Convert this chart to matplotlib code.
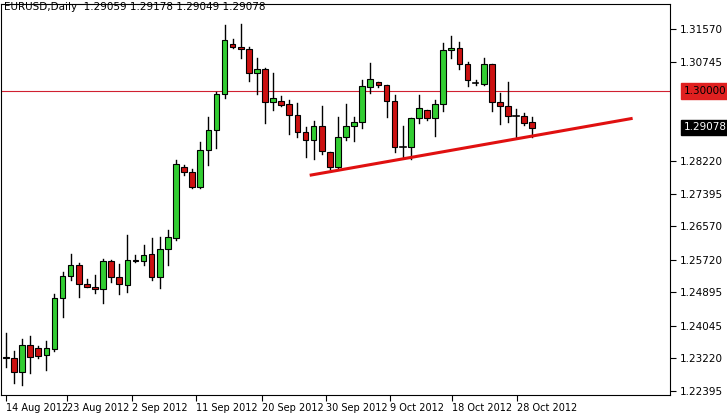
import matplotlib
matplotlib.use("Agg")
import matplotlib.pyplot as plt
from matplotlib.patches import Rectangle

# daily EURUSD candles
opens = [1.2325, 1.2323, 1.2288, 1.2356, 1.2349, 1.2331, 1.2346, 1.2475, 1.2531, 1.2559,
         1.2511, 1.2503, 1.2498, 1.2569, 1.2528, 1.2508, 1.2572, 1.2569, 1.2587, 1.2528,
         1.2600, 1.2627, 1.2807, 1.2795, 1.2757, 1.2850, 1.2901, 1.2992, 1.3119, 1.3112,
         1.3106, 1.3046, 1.3056, 1.2972, 1.2975, 1.2967, 1.2939, 1.2896, 1.2876, 1.2911,
         1.2845, 1.2807, 1.2883, 1.2911, 1.2921, 1.3010, 1.3023, 1.3015, 1.2975, 1.2858,
         1.2858, 1.2932, 1.2952, 1.2932, 1.2967, 1.3104, 1.3109, 1.3068, 1.3020, 1.3018,
         1.3068, 1.2972, 1.2962, 1.2937, 1.2937, 1.2922]
highs = [1.2387, 1.2341, 1.2371, 1.2379, 1.2354, 1.2366, 1.2485, 1.2541, 1.2587, 1.2565,
         1.2523, 1.2534, 1.2574, 1.2572, 1.2562, 1.2635, 1.2584, 1.2610, 1.2627, 1.2630,
         1.2648, 1.2825, 1.2812, 1.2802, 1.2871, 1.2934, 1.2997, 1.3167, 1.3132, 1.3170,
         1.3112, 1.3084, 1.3058, 1.3046, 1.2987, 1.2977, 1.2970, 1.2909, 1.2924, 1.2962,
         1.2845, 1.2934, 1.2967, 1.2934, 1.3028, 1.3071, 1.3023, 1.3015, 1.2990, 1.2911,
         1.2932, 1.2990, 1.2952, 1.2977, 1.3122, 1.3139, 1.3124, 1.3073, 1.3028, 1.3084,
         1.3068, 1.2995, 1.3023, 1.2954, 1.2944, 1.2934]
lows = [1.2300, 1.2260, 1.2255, 1.2285, 1.2323, 1.2293, 1.2341, 1.2428, 1.2521, 1.2478,
        1.2503, 1.2488, 1.2463, 1.2516, 1.2485, 1.2491, 1.2567, 1.2559, 1.2521, 1.2501,
        1.2559, 1.2622, 1.2787, 1.2754, 1.2754, 1.2812, 1.2856, 1.2982, 1.3109, 1.3084,
        1.3025, 1.2992, 1.2919, 1.2952, 1.2962, 1.2891, 1.2883, 1.2833, 1.2828, 1.2840,
        1.2802, 1.2805, 1.2876, 1.2873, 1.2906, 1.2995, 1.3010, 1.2934, 1.2845, 1.2833,
        1.2828, 1.2919, 1.2927, 1.2886, 1.2949, 1.3084, 1.3056, 1.3013, 1.3015, 1.3015,
        1.2949, 1.2917, 1.2922, 1.2881, 1.2914, 1.2883]
closes = [1.2322, 1.2288, 1.2356, 1.2326, 1.2328, 1.2349, 1.2475, 1.2531, 1.2559, 1.2511,
          1.2503, 1.2498, 1.2569, 1.2528, 1.2511, 1.2572, 1.2569, 1.2584, 1.2528, 1.2600,
          1.2630, 1.2815, 1.2795, 1.2757, 1.2850, 1.2901, 1.2992, 1.3129, 1.3112, 1.3106,
          1.3046, 1.3056, 1.2972, 1.2982, 1.2965, 1.2939, 1.2896, 1.2876, 1.2911, 1.2848,
          1.2807, 1.2883, 1.2911, 1.2921, 1.3013, 1.3030, 1.3015, 1.2975, 1.2858, 1.2856,
          1.2932, 1.2957, 1.2932, 1.2967, 1.3104, 1.3109, 1.3068, 1.3028, 1.3020, 1.3068,
          1.2972, 1.2962, 1.2937, 1.2936, 1.2919, 1.2907]

date_labels = ["14 Aug 2012", "23 Aug 2012", "2 Sep 2012", "11 Sep 2012", "20 Sep 2012",
               "30 Sep 2012", "9 Oct 2012", "18 Oct 2012", "28 Oct 2012"]
date_pos = [0, 7.6, 15.6, 23.5, 31.6, 39.5, 47.4, 55.1, 63.1]

price_ticks = [1.31570, 1.30745, 1.28220, 1.27395, 1.26570,
               1.25720, 1.24895, 1.24045, 1.23220, 1.22395]
level = 1.30000
last_price = 1.29078
trend_x = [37.7, 77.2]
trend_y = [1.2787, 1.2930]

W, H = 727, 415
fig = plt.figure(figsize=(W / 100, H / 100), dpi=100)
ax = fig.add_axes([1 / W, 1 - 395 / H, 669 / W, 391 / H])
ax.set_xlim(-0.6, 82)
ax.set_ylim(1.22294, 1.32205)

for i in range(len(opens)):
    o, h, l, c = opens[i], highs[i], lows[i], closes[i]
    ax.plot([i, i], [l, h], color="black", lw=1, zorder=2)
    col = "#32cd32" if c > o else "#cc1111"
    lo, hi = min(o, c), max(o, c)
    if hi - lo < 0.0002:
        ax.plot([i - 0.35, i + 0.35], [o, o], color="black", lw=1.2, zorder=3)
    else:
        ax.add_patch(Rectangle((i - 0.35, lo), 0.7, hi - lo, facecolor=col,
                               edgecolor="black", lw=0.8, zorder=3))

ax.axhline(level, color="#d02030", lw=0.8, zorder=1)
ax.plot(trend_x, trend_y, color="#e01010", lw=2.2, zorder=4)

ax.yaxis.tick_right()
ax.set_yticks(price_ticks)
ax.set_yticklabels([f"{t:.5f}" for t in price_ticks], fontsize=7.5)
ax.tick_params(axis="y", length=4, pad=3)
ax.set_xticks(date_pos)
ax.set_xticklabels(date_labels, fontsize=7, ha="left")
ax.tick_params(axis="x", length=4, pad=2)

bbox_r = dict(boxstyle="square,pad=0.25", fc="#e02020", ec="#e02020")
bbox_k = dict(boxstyle="square,pad=0.25", fc="black", ec="black")
ax.text(1.02, level, "1.30000", transform=ax.get_yaxis_transform(), fontsize=7.5,
        color="black", va="center", bbox=bbox_r, clip_on=False)
ax.text(1.02, last_price, "1.29078", transform=ax.get_yaxis_transform(), fontsize=7.5,
        color="white", va="center", bbox=bbox_k, clip_on=False)

fig.text(4 / W, 1 - 7 / H, "EURUSD,Daily  1.29059 1.29178 1.29049 1.29078",
         fontsize=7.5, va="center")

fig.savefig("out.png", dpi=100)
